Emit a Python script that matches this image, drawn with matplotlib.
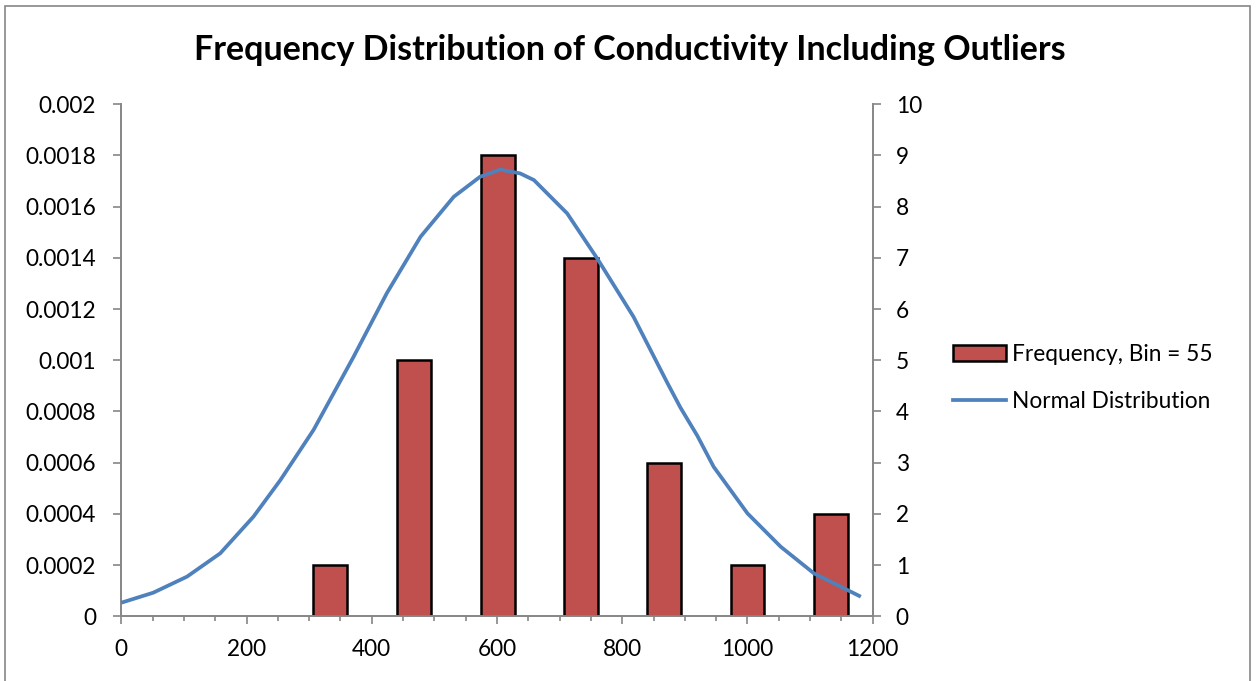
import matplotlib
matplotlib.use("Agg")
import matplotlib.pyplot as plt
from matplotlib.patches import Rectangle, Patch
from matplotlib.lines import Line2D
from matplotlib.ticker import MultipleLocator, FixedLocator

plt.rcParams['font.family'] = ['Lato', 'DejaVu Sans']

# Histogram (right axis: frequency)
bin_centers = [333, 467, 601, 734, 867, 1000, 1134]
frequency = [1, 5, 9, 7, 3, 1, 2]
bar_width = 54

# Normal distribution curve (left axis: density): points
curve_x = [0, 51, 105, 158, 211, 254, 307, 339, 371, 424, 478, 531, 573, 605,
           637, 659, 712, 760, 818, 872, 893, 920, 946, 1000, 1053, 1106, 1181]
curve_y = [0.0000531, 0.0000922, 0.000155, 0.000246, 0.000389, 0.000532, 0.000728,
           0.000871, 0.001014, 0.001262, 0.001483, 0.001639, 0.001717, 0.001745,
           0.001730, 0.001704, 0.001574, 0.001398, 0.001170, 0.000912, 0.000815,
           0.000705, 0.000584, 0.000402, 0.000272, 0.000168, 0.0000766]

left_ticks = [0, 0.0002, 0.0004, 0.0006, 0.0008, 0.001, 0.0012, 0.0014, 0.0016, 0.0018, 0.002]
left_labels = ['0', '0.0002', '0.0004', '0.0006', '0.0008', '0.001', '0.0012',
               '0.0014', '0.0016', '0.0018', '0.002']
right_ticks = list(range(0, 11))
x_ticks = [0, 200, 400, 600, 800, 1000, 1200]

title = "Frequency Distribution of Conductivity Including Outliers"
bar_label = "Frequency, Bin = 55"
line_label = "Normal Distribution"

bar_color = '#C0504D'
line_color = '#4F81BD'
axis_color = '#868686'
FS = 16.3

W, H = 1259, 681
fig = plt.figure(figsize=(W / 100, H / 100), dpi=100)
fig.patch.set_facecolor('white')

# outer chart frame
fig.patches.append(Rectangle((5 / W, -0.02), (1250 - 5) / W, (H - 5.5) / H + 0.02,
                             transform=fig.transFigure, fill=False,
                             edgecolor=axis_color, linewidth=1.2))

left, right = 121.3 / W, 872.7 / W
bottom, top = (H - 616.3) / H, (H - 104.3) / H
ax = fig.add_axes([left, bottom, right - left, top - bottom])
ax2 = ax.twinx()

# bars on right axis
ax2.bar(bin_centers, frequency, width=bar_width, color=bar_color,
        edgecolor='black', linewidth=1.8, zorder=2)
ax2.set_ylim(0, 10)
ax2.yaxis.set_major_locator(FixedLocator(right_ticks))

# line on left axis, drawn above bars
ax.plot(curve_x, curve_y, color=line_color, linewidth=2.7, solid_capstyle='butt',
        solid_joinstyle='round', zorder=3)
ax.set_ylim(0, 0.002)
ax.set_yticks(left_ticks)
ax.set_yticklabels(left_labels)
ax.set_xlim(0, 1200)
ax.set_xticks(x_ticks)
ax.xaxis.set_minor_locator(MultipleLocator(50))
ax.set_zorder(ax2.get_zorder() + 1)
ax.patch.set_visible(False)

for a in (ax, ax2):
    for s in a.spines.values():
        s.set_visible(False)
    a.tick_params(axis='both', which='both', color=axis_color, labelcolor='black',
                  labelsize=FS, width=1.2)

ax.spines['left'].set_visible(True)
ax.spines['bottom'].set_visible(True)
ax.spines['left'].set_color(axis_color)
ax.spines['bottom'].set_color(axis_color)
ax.spines['left'].set_linewidth(1.4)
ax.spines['bottom'].set_linewidth(1.4)
ax2.spines['right'].set_visible(True)
ax2.spines['right'].set_color(axis_color)
ax2.spines['right'].set_linewidth(1.4)

ax.tick_params(axis='y', which='major', length=5.5, pad=12.5, direction='out')
ax.tick_params(axis='x', which='major', length=5.5, pad=11, direction='out')
ax.tick_params(axis='x', which='minor', length=3.8, direction='out')
ax2.tick_params(axis='y', which='major', length=5.5, pad=11, direction='out')

fig.text(0.5, (H - 50) / H, title, ha='center', va='center',
         fontsize=24.5, fontweight='bold', color='black')

handles = [Patch(facecolor=bar_color, edgecolor='black', linewidth=1.8),
           Line2D([0], [0], color=line_color, linewidth=2.7)]
fig.legend(handles, [bar_label, line_label], loc='center left',
           bbox_to_anchor=(953 / W, (H - 378) / H), frameon=False,
           fontsize=FS, handlelength=2.35, handleheight=0.68, handletextpad=0.25,
           labelspacing=1.15, borderaxespad=0, borderpad=0)

fig.savefig('out.png', dpi=100, facecolor='white')
